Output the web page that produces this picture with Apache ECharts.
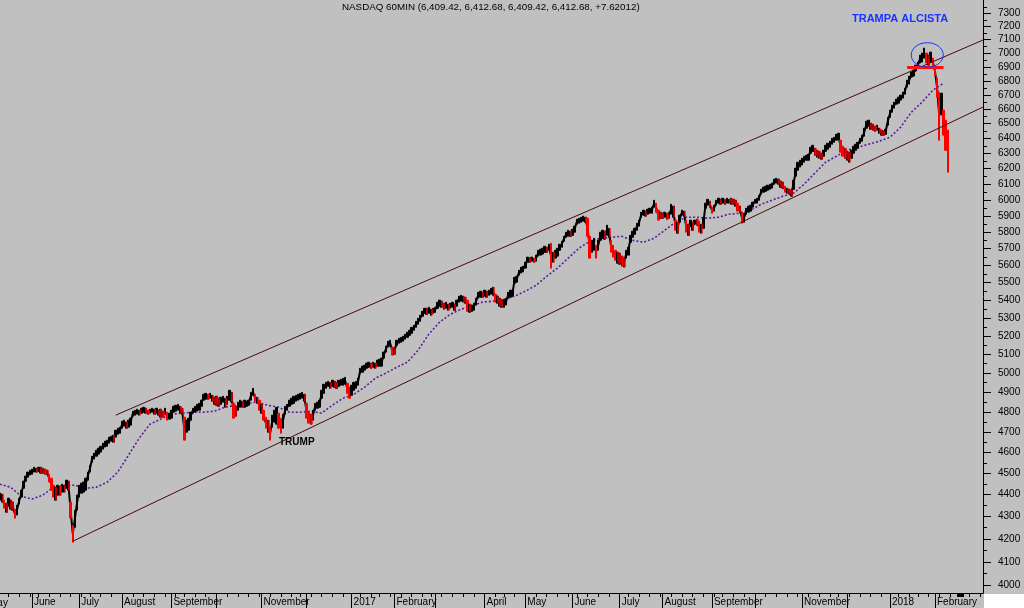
<!DOCTYPE html>
<html>
<head>
<meta charset="utf-8">
<script src="https://cdn.jsdelivr.net/npm/echarts@6/dist/echarts.min.js"></script>
<style>
html,body{margin:0;padding:0;background:#c0c0c0;}
#chart{width:1024px;height:608px;}
</style>
</head>
<body>
<div id="chart"></div>
<script>
// ---------------- data ----------------
const titleText = 'NASDAQ 60MIN (6,409.42, 6,412.68, 6,409.42, 6,412.68, +7.62012)';
const firstTradingDay = '2016-05-02';
const categoryCount = 466;
const holidays = ['2016-05-30','2016-07-04','2016-09-05','2016-11-24','2016-12-26',
  '2017-01-02','2017-01-16','2017-02-20','2017-04-14','2017-05-29','2017-07-04','2017-09-04',
  '2017-11-23','2017-12-25','2018-01-01','2018-01-15','2018-02-19'];

// daily highs / lows, first value = trading day #6 (2016-05-10)
const dataStartIndex = 6;
const highs = [
4408,4403,4375,4361,4384,4375,4366,4334,4352,4384,4421,4463,4487,4506,4515,4520,4529,4524,4529,4529,
4524,4520,4515,4496,4477,4444,4435,4444,4440,4449,4444,4468,4463,4366,4261,4329,4398,4444,4454,4459,
4477,4506,4538,4582,4597,4611,4621,4630,4645,4655,4660,4675,4679,4684,4709,4719,4724,4754,4759,4749,
4759,4769,4804,4809,4814,4809,4819,4824,4819,4809,4814,4819,4814,4819,4809,4814,4804,4819,4799,4794,
4809,4829,4834,4839,4829,4819,4774,4759,4769,4799,4819,4829,4839,4844,4860,4890,4895,4890,4895,4885,
4875,4880,4870,4875,4880,4870,4880,4911,4900,4844,4829,4850,4860,4855,4860,4855,4860,4900,4921,4890,
4875,4860,4839,4809,4774,4759,4724,4784,4809,4824,4794,4769,4789,4829,4839,4860,4870,4880,4885,4890,
4895,4900,4890,4844,4799,4789,4809,4844,4850,4860,4911,4942,4952,4957,4952,4963,4957,4952,4963,4968,
4973,4978,4947,4926,4937,4952,4957,4973,5026,5037,5042,5053,5058,5053,5058,5053,5069,5074,5080,5112,
5144,5171,5176,5139,5133,5176,5187,5192,5198,5209,5220,5231,5247,5258,5280,5297,5314,5336,5353,5353,
5359,5348,5353,5359,5387,5399,5393,5382,5387,5376,5382,5387,5376,5399,5422,5427,5422,5416,5399,5376,
5371,5382,5410,5444,5450,5444,5456,5450,5456,5467,5473,5433,5422,5410,5399,5404,5410,5444,5456,5456,
5530,5536,5572,5590,5596,5619,5649,5643,5649,5643,5661,5690,5696,5702,5714,5708,5726,5732,5678,5690,
5702,5726,5744,5774,5799,5811,5805,5817,5836,5879,5885,5891,5898,5891,5885,5774,5750,5762,5720,5750,
5799,5811,5805,5842,5823,5750,5720,5690,5678,5672,5655,5643,5690,5708,5780,5805,5823,5854,5873,5922,
5935,5929,5941,5947,5954,5997,5979,5935,5922,5916,5922,5916,5922,5972,5960,5873,5860,5904,5935,5929,
5873,5848,5873,5860,5873,5879,5866,5848,5885,5979,6003,5991,5954,5966,5997,6010,6003,6010,6003,6010,
6003,6010,6003,5997,5979,5960,5922,5916,5947,5960,5966,5985,6003,6010,6029,6067,6080,6086,6093,6099,
6106,6132,6138,6132,6119,6112,6086,6074,6067,6061,6125,6203,6242,6255,6268,6281,6288,6294,6341,6354,
6334,6321,6314,6301,6321,6354,6368,6381,6401,6408,6428,6435,6388,6348,6334,6314,6308,6321,6348,6361,
6374,6401,6421,6469,6517,6524,6503,6497,6483,6490,6469,6456,6449,6462,6544,6593,6628,6649,6670,6684,
6698,6719,6747,6805,6834,6863,6877,6913,6935,6986,7001,7038,7001,6986,7008,6964,6906,6819,6719,6712,
6593,6524,6456];
const lows = [
4375,4366,4338,4320,4347,4334,4329,4293,4307,4357,4389,4430,4463,4482,4492,4496,4506,4506,4510,4501,
4501,4496,4496,4459,4421,4389,4375,4398,4398,4412,4412,4430,4421,4293,4186,4252,4329,4389,4407,4412,
4421,4468,4506,4553,4568,4582,4592,4602,4616,4626,4630,4645,4655,4650,4675,4689,4694,4719,4729,4719,
4724,4734,4779,4784,4789,4784,4794,4799,4794,4789,4794,4799,4789,4794,4784,4774,4774,4789,4759,4764,
4769,4799,4804,4809,4794,4789,4660,4699,4709,4759,4794,4799,4804,4809,4829,4860,4865,4865,4870,4855,
4839,4834,4829,4839,4850,4824,4839,4860,4850,4769,4779,4809,4824,4824,4824,4829,4834,4860,4885,4855,
4844,4809,4794,4759,4719,4699,4660,4724,4749,4739,4719,4694,4719,4789,4809,4829,4839,4844,4855,4860,
4865,4870,4855,4769,4744,4739,4759,4809,4819,4824,4870,4895,4921,4931,4921,4931,4926,4921,4931,4937,
4937,4942,4895,4870,4885,4911,4921,4937,5000,5005,5016,5026,5031,5026,5031,5026,5037,5037,5037,5080,
5112,5139,5144,5096,5101,5149,5160,5165,5171,5182,5192,5203,5214,5231,5247,5264,5280,5308,5325,5319,
5325,5314,5325,5330,5353,5365,5359,5348,5353,5342,5353,5359,5342,5365,5388,5393,5388,5382,5336,5331,
5336,5342,5371,5410,5416,5416,5422,5416,5427,5433,5427,5388,5382,5365,5359,5359,5371,5410,5416,5422,
5496,5502,5543,5555,5561,5584,5619,5619,5625,5619,5625,5655,5661,5667,5678,5678,5690,5584,5619,5643,
5655,5690,5708,5744,5768,5774,5774,5780,5799,5848,5854,5860,5866,5860,5774,5643,5678,5690,5643,5690,
5750,5762,5756,5780,5768,5678,5649,5631,5613,5607,5596,5590,5643,5661,5738,5768,5786,5811,5836,5891,
5904,5898,5910,5916,5916,5954,5922,5873,5885,5885,5891,5879,5885,5910,5891,5811,5793,5860,5904,5898,
5799,5780,5836,5811,5848,5842,5799,5793,5823,5947,5966,5954,5916,5929,5966,5979,5972,5979,5972,5979,
5979,5972,5972,5960,5929,5922,5854,5860,5910,5922,5929,5954,5979,5979,5997,6036,6048,6054,6061,6067,
6074,6099,6106,6099,6080,6074,6048,6042,6036,6023,6067,6151,6190,6210,6223,6242,6255,6255,6301,6314,
6288,6275,6268,6262,6281,6314,6328,6341,6361,6374,6388,6394,6308,6281,6268,6255,6242,6268,6301,6321,
6334,6368,6381,6415,6469,6483,6462,6456,6449,6456,6435,6422,6422,6428,6490,6544,6579,6607,6635,6642,
6663,6677,6705,6755,6776,6827,6834,6870,6891,6928,6935,6964,6928,6913,6935,6906,6834,6684,6388,6565,
6422,6321,6177];

// dotted moving average, one reading every 5 trading days from day #6
const maStartIndex = 6;
const maStep = 5;
const maValues = [
4449,4435,4393,4380,4398,4435,4444,4444,4430,4435,
4458,4506,4587,4670,4739,4764,4789,4794,4799,4799,
4804,4824,4834,4844,4850,4834,4824,4799,4799,4804,
4794,4834,4870,4890,4926,4973,5000,5031,5058,5122,
5209,5275,5319,5348,5365,5388,5393,5404,5422,5450,
5484,5536,5584,5643,5702,5744,5762,5768,5774,5750,
5738,5762,5811,5860,5891,5891,5885,5891,5910,5916,
5935,5972,5997,6023,6042,6099,6171,6242,6281,6321,
6341,6361,6381,6408,6476,6579,6649,6733,6783];

// channel lines (trading-day index, price)
const upperChannel = [[60, 4784], [464.4, 7098]];
const lowerChannel = [[40, 4190], [464.4, 6615]];
// red support line under the top
const topSupport = [[429, 6899], [446, 6899]];
// circled top: centre (trading-day index, price)
const topCircle = [438.4, 6987];

// axis ticks / labels
const xRange = [6.08, 464.4];           // visible trading-day window
const yRange = [3968, 7403];
const yLabelValues = [4000,4100,4200,4300,4400,4500,4600,4700,4800,4900,5000,5100,5200,5300,5400,
  5500,5600,5700,5800,5900,6000,6100,6200,6300,6400,6500,6600,6700,6800,6900,7000,7100,7200,7300];
const yMinorValues = [4050,4150,4250,4350,4450,4550,4650,4750,4850,4950,5050,5150,5250,5350,5450,
  5550,5650,5750,5850,5950,6050,6150,6250,6350,6450,6550,6650,6750,6850,6950,7050,7150,7250,7350];
const labelMonths = ['2016-05','2016-06','2016-07','2016-08','2016-09','2016-11','2017-01','2017-02',
  '2017-04','2017-05','2017-06','2017-07','2017-08','2017-09','2017-11','2018-01','2018-02'];
const labelTexts = ['May','June','July','August','September','November','2017','February',
  'April','May','June','July','August','September','November','2018','February'];
const lastMonthTick = '2018-02';

// ---------------- build ----------------
function buildDates() {
  const out = [];
  const p = firstTradingDay.split('-').map(Number);
  const d = new Date(Date.UTC(p[0], p[1] - 1, p[2]));
  while (out.length < categoryCount) {
    const wd = d.getUTCDay();
    const s = d.toISOString().slice(0, 10);
    if (wd !== 0 && wd !== 6 && holidays.indexOf(s) < 0) out.push(s);
    d.setUTCDate(d.getUTCDate() + 1);
  }
  return out;
}
const dates = buildDates();
const monthOf = i => dates[i].slice(0, 7);
const isMonthStart = i => i > 0 && monthOf(i) !== monthOf(i - 1);
const weekday = i => new Date(dates[i] + 'T00:00:00Z').getUTCDay();
const isWeekStart = i => i > 0 && weekday(i) < weekday(i - 1);

const monthTickIdx = [], weekTickIdx = [], labelIdx = [], labelAt = {};
dates.forEach((d, i) => {
  if (i < xRange[0] || i > xRange[1]) return;
  if (isMonthStart(i) && monthOf(i) <= lastMonthTick) monthTickIdx.push(i);
  if (isWeekStart(i)) weekTickIdx.push(i);
  const m = labelMonths.indexOf(monthOf(i));
  if (isMonthStart(i) && m >= 0) { labelIdx.push(i); labelAt[i] = labelTexts[m]; }
});

const L = Math.log;
const bigDrop = 0.004;
const mainCandles = [], redStreaks = [], midPath = [];
highs.forEach((h, k) => {
  const l = lows[k];
  const idx = dataStartIndex + k;
  const mid = (L(h) + L(l)) / 2;
  const prevMid = k > 0 ? (L(highs[k - 1]) + L(lows[k - 1])) / 2 : mid;
  const drop = prevMid - mid;
  if (drop > bigDrop) {
    mainCandles.push([idx, L(h), L(l), L(l), L(h)]);
  } else {
    mainCandles.push([idx, L(l), L(h), L(l), L(h)]);
    if (drop > 0) redStreaks.push([idx + 0.3, L(h), L(l), L(l), L(h)]);
  }
  midPath.push([idx, mid]);
});
const maData = maValues.map((v, k) => [maStartIndex + k * maStep, L(v)]);

const font = "'Liberation Sans', Arial, sans-serif";
const chart = echarts.init(document.getElementById('chart'), null, {renderer: 'canvas'});

const baseX = {
  type: 'value', min: xRange[0], max: xRange[1], position: 'bottom',
  splitLine: {show: false}, splitArea: {show: false}
};
const option = {
  animation: false,
  backgroundColor: '#c0c0c0',
  textStyle: {fontFamily: font},
  title: {
    text: titleText, left: 342, top: 2, padding: 0,
    textStyle: {fontSize: 9.8, fontWeight: 'normal', color: '#000', fontFamily: font}
  },
  grid: {left: 0, right: 41, top: 0, bottom: 15, containLabel: false},
  xAxis: [
    Object.assign({}, baseX, {
      axisLine: {show: true, onZero: false, lineStyle: {color: '#000', width: 1}},
      axisTick: {show: true, length: 4, customValues: weekTickIdx, lineStyle: {color: '#000'}},
      axisLabel: {show: false}
    }),
    Object.assign({}, baseX, {
      axisLine: {show: false, onZero: false},
      axisTick: {show: true, length: 15, customValues: monthTickIdx, lineStyle: {color: '#000'}},
      axisLabel: {
        show: true, customValues: labelIdx, fontSize: 10, color: '#000', fontFamily: font, margin: 4,
        align: 'left', padding: [0, 0, 0, 2],
        formatter: (v) => labelAt[Math.round(v)] || ''
      }
    })
  ],
  yAxis: [
    {
      type: 'value', position: 'right', min: L(yRange[0]), max: L(yRange[1]),
      axisLine: {show: true, onZero: false, lineStyle: {color: '#000', width: 1}},
      axisTick: {show: true, length: 8, customValues: yLabelValues.map(L), lineStyle: {color: '#000'}},
      axisLabel: {
        show: true, customValues: yLabelValues.map(L), margin: 15,
        fontSize: 10, color: '#000', fontFamily: font,
        formatter: (v) => String(Math.round(Math.exp(v)))
      },
      splitLine: {show: false}
    },
    {
      type: 'value', position: 'right', min: L(yRange[0]), max: L(yRange[1]),
      axisLine: {show: false, onZero: false},
      axisTick: {show: true, length: 4, customValues: yMinorValues.map(L), lineStyle: {color: '#000'}},
      axisLabel: {show: false},
      splitLine: {show: false}
    }
  ],
  series: [
    {
      type: 'line', name: 'MA', data: maData, xAxisIndex: 0, yAxisIndex: 0,
      showSymbol: false, symbol: 'none', silent: true, z: 2,
      lineStyle: {color: '#5a1c9e', width: 1.6, type: [2, 2]}
    },
    {
      type: 'line', name: 'path', data: midPath, xAxisIndex: 0, yAxisIndex: 0,
      showSymbol: false, symbol: 'none', silent: true, z: 3,
      lineStyle: {color: '#000', width: 2}
    },
    {
      type: 'candlestick', name: 'NASDAQ', data: mainCandles, xAxisIndex: 0, yAxisIndex: 0,
      encode: {x: 0, y: [1, 2, 3, 4]},
      barWidth: 2, silent: true, z: 4,
      itemStyle: {color: '#000000', color0: '#ff0000', borderColor: '#000000', borderColor0: '#ff0000', borderWidth: 1},
      markLine: {
        symbol: 'none', silent: true, animation: false,
        label: {show: false},
        lineStyle: {color: '#4a0808', width: 1, type: 'solid'},
        data: [
          [{coord: [upperChannel[0][0], L(upperChannel[0][1])]}, {coord: [upperChannel[1][0], L(upperChannel[1][1])]}],
          [{coord: [lowerChannel[0][0], L(lowerChannel[0][1])]}, {coord: [lowerChannel[1][0], L(lowerChannel[1][1])]}],
          [{coord: [topSupport[0][0], L(topSupport[0][1])], lineStyle: {color: '#ff1010', width: 3}},
           {coord: [topSupport[1][0], L(topSupport[1][1])]}]
        ]
      }
    },
    {
      type: 'candlestick', name: 'down', data: redStreaks, xAxisIndex: 0, yAxisIndex: 0,
      encode: {x: 0, y: [1, 2, 3, 4]},
      barWidth: 1.6, silent: true, z: 5,
      itemStyle: {color: '#ff0000', color0: '#ff0000', borderColor: '#ff0000', borderColor0: '#ff0000', borderWidth: 0.4}
    }
  ]
};
chart.setOption(option);

const cpix = chart.convertToPixel({xAxisIndex: 0, yAxisIndex: 0}, [topCircle[0], L(topCircle[1])]);
const cx = Array.isArray(cpix) ? cpix[0] : 928;
const cy = Array.isArray(cpix) ? cpix[1] : 55;
chart.setOption({
  graphic: [
    {type: 'ellipse', shape: {cx: cx, cy: cy, rx: 16, ry: 12.3}, silent: true, z: 10,
      style: {fill: 'none', stroke: '#1a33ff', lineWidth: 1}},
    {type: 'text', left: 852, top: 13, silent: true, z: 10,
      style: {text: 'TRAMPA ALCISTA', fill: '#1a33ff', font: "bold 11px 'Liberation Sans', Arial, sans-serif"}},
    {type: 'text', left: 279, top: 437, silent: true, z: 10,
      style: {text: 'TRUMP', fill: '#000', font: "bold 10px 'Liberation Sans', Arial, sans-serif"}},
    {type: 'text', x: -11, y: 598, silent: true, z: 10,
      style: {text: labelTexts[0], fill: '#000', font: "10px 'Liberation Sans', Arial, sans-serif"}},
    {type: 'rect', shape: {x: 984, y: 594, width: 40, height: 14}, silent: true, z: 10,
      style: {fill: '#ffffff'}},
    {type: 'rect', shape: {x: 957, y: 593, width: 7, height: 4}, silent: true, z: 10,
      style: {fill: '#000000'}}
  ]
});
</script>
</body>
</html>
